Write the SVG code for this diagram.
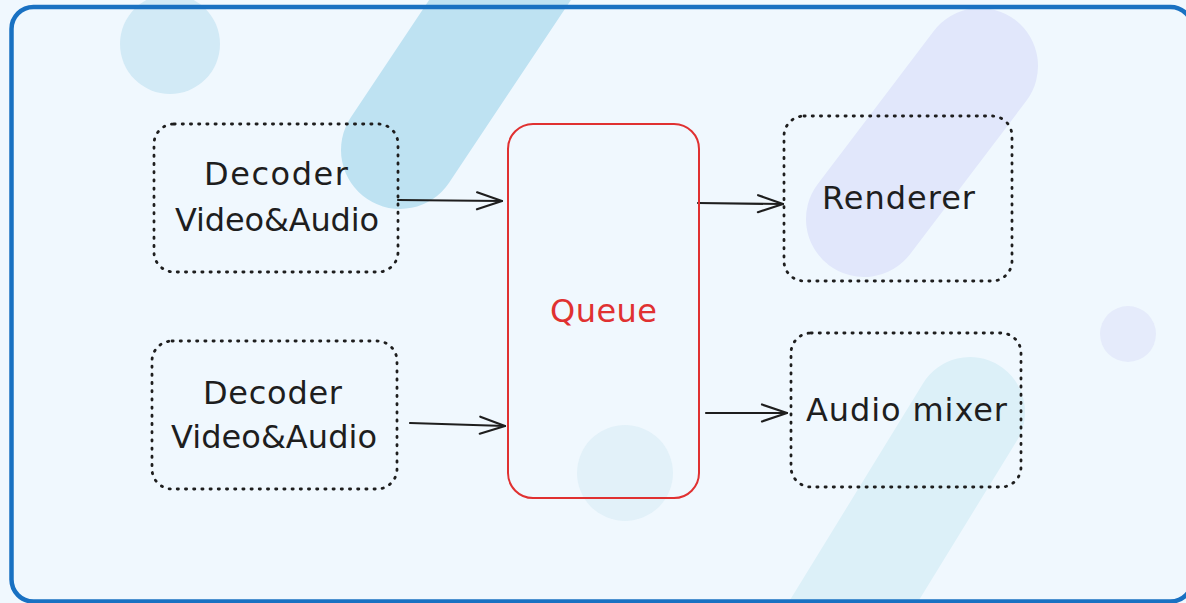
<svg xmlns="http://www.w3.org/2000/svg" width="1186" height="603" viewBox="0 0 1186 603">
  <defs>
    <style>
      .box { fill: none; stroke: #1e1e1e; stroke-width: 2.8; stroke-dasharray: 1.2 7; stroke-linecap: round; }
      .label { font-family: "DejaVu Sans", "Liberation Sans", sans-serif; font-size: 32px; fill: #1e1e1e; text-anchor: middle; }
      .edge { fill: none; stroke: #1e1e1e; stroke-width: 2.2; stroke-linecap: round; marker-end: url(#open-arrow); }
      .blob { stroke-linecap: round; fill: none; }
    </style>
    <marker id="open-arrow" markerUnits="userSpaceOnUse" markerWidth="40" markerHeight="30" viewBox="-30 -15 40 30" refX="0" refY="0" orient="auto" overflow="visible">
      <path d="M -25 -8.5 L 0 0 L -25 8.5" fill="none" stroke="#1e1e1e" stroke-width="2.2" stroke-linecap="round" stroke-linejoin="round"/>
    </marker>
  </defs>

  <!-- canvas -->
  <rect x="0" y="0" width="1186" height="603" fill="#f0f8fe"/>

  <!-- decorative background shapes -->
  <g id="background">
    <circle cx="170" cy="44" r="50" fill="#d2eaf6"/>
    <line class="blob" x1="400" y1="150" x2="540" y2="-60" stroke="#bee2f2" stroke-width="118"/>
    <line class="blob" x1="864" y1="219" x2="980" y2="66" stroke="#e1e7fb" stroke-width="116"/>
    <circle cx="1128" cy="334" r="28" fill="#e5ebfb"/>
    <circle cx="625" cy="473" r="48" fill="#e2f1f9"/>
    <line class="blob" x1="970" y1="412" x2="830" y2="640" stroke="#dcf0f8" stroke-width="110"/>
  </g>

  <!-- outer frame -->
  <rect x="11.5" y="7" width="1181" height="594.5" rx="22" fill="none" stroke="#1971c2" stroke-width="4.5"/>

  <!-- connectors -->
  <g id="connectors">
    <path class="edge" d="M398 200 L502 201"/>
    <path class="edge" d="M410 423 L505 426"/>
    <path class="edge" d="M698 203 L783 204"/>
    <path class="edge" d="M706 413 L787 413" stroke-width="3.2"/>
  </g>

  <!-- nodes -->
  <g id="decoder-top">
    <rect class="box" x="154" y="124" width="244" height="148" rx="20"/>
    <text class="label" x="276" y="185" textLength="144">Decoder</text>
    <text class="label" x="277" y="231" textLength="204">Video&amp;Audio</text>
  </g>

  <g id="decoder-bottom">
    <rect class="box" x="152" y="341" width="245" height="148" rx="20"/>
    <text class="label" x="272.5" y="404" textLength="139">Decoder</text>
    <text class="label" x="274" y="448" textLength="206">Video&amp;Audio</text>
  </g>

  <g id="queue">
    <rect x="508" y="124" width="191" height="374" rx="25" fill="none" stroke="#e03131" stroke-width="2"/>
    <text class="label" x="603.5" y="322" textLength="107" style="fill:#e03131">Queue</text>
  </g>

  <g id="renderer">
    <rect class="box" x="784" y="116" width="228" height="165" rx="20"/>
    <text class="label" x="898.5" y="209" textLength="153">Renderer</text>
  </g>

  <g id="audio-mixer">
    <rect class="box" x="791" y="333" width="230" height="154" rx="20"/>
    <text class="label" x="906.5" y="421" textLength="201">Audio mixer</text>
  </g>
</svg>
